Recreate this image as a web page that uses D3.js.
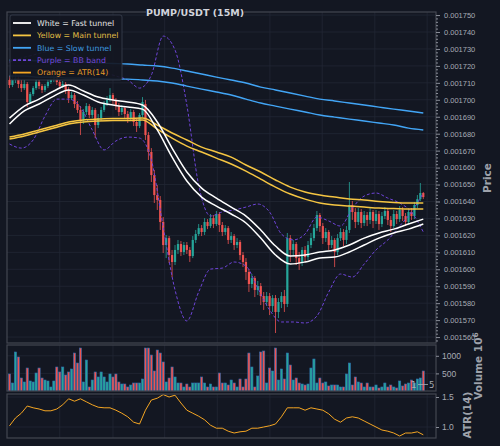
<!DOCTYPE html>
<html>
<head>
<meta charset="utf-8">
<script src="https://cdn.jsdelivr.net/npm/d3@7"></script>
<style>
  html, body { margin: 0; padding: 0; background: #131722; }
  svg { display: block; }
</style>
</head>
<body>
<div id="chart"></div>
<script>
// prices are in micro-USDT (1e-6)
const opens = [
  1711.7, 1708.7, 1711.7, 1712.8, 1709.3, 1706.9, 1709.3, 1698.7, 1703.4, 1706.9,
  1710.5, 1708.1, 1705.8, 1708.1, 1710.5, 1712.2, 1713.4, 1710.5, 1708.1, 1709.3,
  1705.8, 1701.0, 1702.8, 1697.5, 1694.0, 1688.1, 1692.8, 1696.3, 1691.0, 1694.0,
  1685.1, 1689.2, 1694.0, 1697.5, 1699.9, 1702.8, 1699.9, 1696.3, 1692.8, 1695.1,
  1691.6, 1689.2, 1692.8, 1686.9, 1684.5, 1691.0, 1697.5, 1679.2, 1669.2, 1655.6,
  1643.8, 1640.9, 1627.9, 1614.3, 1618.4, 1608.4, 1604.3, 1611.4, 1614.9, 1610.2,
  1614.3, 1611.4, 1607.8, 1617.3, 1620.8, 1624.3, 1622.0, 1627.9, 1625.5, 1630.2,
  1626.7, 1632.6, 1626.1, 1622.0, 1624.3, 1617.3, 1619.6, 1614.3, 1616.1, 1608.4,
  1604.3, 1598.4, 1591.3, 1594.8, 1587.8, 1590.1, 1584.2, 1580.7, 1584.2, 1578.3,
  1583.0, 1574.8, 1580.7, 1584.2, 1579.5, 1618.4, 1611.4, 1614.9, 1606.6, 1603.7,
  1611.4, 1607.2, 1614.3, 1618.4, 1624.3, 1632.0, 1625.5, 1618.4, 1622.0, 1614.3,
  1617.3, 1610.2, 1618.4, 1622.0, 1617.3, 1623.2, 1637.9, 1633.8, 1627.9, 1633.8,
  1627.3, 1632.0, 1629.1, 1633.8, 1628.5, 1632.6, 1626.7, 1631.4, 1634.4, 1629.1,
  1625.5, 1632.6, 1629.6, 1635.0, 1631.4, 1627.9, 1633.8, 1631.4, 1637.9, 1641.4,
  1645.0
];
const highs = [
  1714.0, 1714.6, 1716.4, 1714.0, 1711.7, 1711.7, 1710.5, 1704.6, 1708.1, 1712.2,
  1711.7, 1709.3, 1709.3, 1712.2, 1714.0, 1715.8, 1714.6, 1711.7, 1711.1, 1710.5,
  1707.5, 1704.6, 1704.0, 1699.3, 1696.3, 1694.5, 1698.1, 1697.5, 1695.7, 1695.1,
  1691.6, 1695.7, 1699.3, 1702.2, 1706.9, 1704.0, 1701.0, 1698.1, 1696.9, 1696.3,
  1693.4, 1694.5, 1694.0, 1689.2, 1692.2, 1701.6, 1699.9, 1681.0, 1671.5, 1658.6,
  1649.7, 1643.2, 1630.8, 1620.2, 1619.6, 1611.4, 1614.3, 1617.3, 1616.7, 1616.1,
  1616.1, 1613.1, 1619.6, 1623.2, 1626.7, 1626.1, 1630.2, 1629.6, 1632.6, 1632.0,
  1634.4, 1633.8, 1627.9, 1626.1, 1625.5, 1622.0, 1620.8, 1618.4, 1617.3, 1610.2,
  1606.6, 1600.1, 1597.2, 1596.0, 1593.1, 1591.9, 1586.6, 1586.6, 1586.0, 1584.8,
  1584.8, 1583.0, 1586.6, 1587.8, 1621.4, 1620.2, 1617.3, 1616.1, 1610.2, 1613.1,
  1613.7, 1616.7, 1621.4, 1626.7, 1634.4, 1633.2, 1627.3, 1624.3, 1623.2, 1619.6,
  1618.4, 1620.8, 1624.3, 1623.7, 1625.5, 1651.5, 1640.3, 1636.1, 1636.1, 1635.5,
  1634.4, 1633.8, 1636.1, 1635.0, 1635.0, 1634.4, 1633.8, 1636.7, 1636.1, 1631.4,
  1635.0, 1634.4, 1637.3, 1636.7, 1633.2, 1635.5, 1636.1, 1639.7, 1643.8, 1650.9,
  1645.6
];
const lows = [
  1706.9, 1707.5, 1709.9, 1706.9, 1704.6, 1705.8, 1695.7, 1697.5, 1702.2, 1705.8,
  1706.3, 1704.0, 1704.6, 1706.9, 1709.3, 1710.5, 1708.7, 1706.3, 1706.9, 1703.4,
  1698.1, 1699.9, 1695.1, 1692.2, 1679.2, 1685.7, 1691.0, 1689.2, 1689.2, 1677.4,
  1683.3, 1687.5, 1692.8, 1696.3, 1698.7, 1697.5, 1694.0, 1690.4, 1691.0, 1689.2,
  1686.3, 1688.1, 1684.5, 1681.0, 1683.3, 1689.8, 1676.3, 1664.5, 1651.5, 1639.1,
  1635.0, 1623.2, 1609.6, 1606.6, 1603.7, 1595.4, 1602.5, 1609.0, 1607.8, 1608.4,
  1609.0, 1604.3, 1606.6, 1615.5, 1619.6, 1619.6, 1620.2, 1623.7, 1624.3, 1624.3,
  1625.5, 1622.0, 1619.6, 1620.2, 1614.9, 1615.5, 1611.4, 1612.5, 1605.5, 1601.3,
  1593.7, 1586.6, 1588.9, 1583.6, 1584.8, 1578.9, 1576.0, 1578.3, 1573.0, 1574.8,
  1562.4, 1571.2, 1577.1, 1574.8, 1577.7, 1604.3, 1607.8, 1602.5, 1599.6, 1601.9,
  1604.3, 1605.5, 1612.5, 1616.7, 1622.6, 1622.0, 1614.9, 1616.1, 1611.4, 1612.5,
  1601.3, 1608.4, 1616.7, 1613.7, 1614.9, 1621.4, 1629.1, 1624.3, 1626.1, 1624.3,
  1625.5, 1625.5, 1626.7, 1624.3, 1626.7, 1623.2, 1624.9, 1629.6, 1626.1, 1622.0,
  1624.3, 1626.7, 1627.9, 1628.5, 1625.5, 1626.7, 1629.1, 1629.6, 1636.1, 1640.3,
  1641.4
];
const closes = [
  1708.7, 1711.7, 1712.8, 1709.3, 1706.9, 1709.3, 1698.7, 1703.4, 1706.9, 1710.5,
  1708.1, 1705.8, 1708.1, 1710.5, 1712.2, 1713.4, 1710.5, 1708.1, 1709.3, 1705.8,
  1701.0, 1702.8, 1697.5, 1694.0, 1688.1, 1692.8, 1696.3, 1691.0, 1694.0, 1685.1,
  1689.2, 1694.0, 1697.5, 1699.9, 1702.8, 1699.9, 1696.3, 1692.8, 1695.1, 1691.6,
  1689.2, 1692.8, 1686.9, 1684.5, 1691.0, 1698.7, 1679.2, 1669.2, 1655.6, 1643.8,
  1640.9, 1627.9, 1614.3, 1618.4, 1608.4, 1604.3, 1611.4, 1614.9, 1610.2, 1614.3,
  1611.4, 1607.8, 1617.3, 1620.8, 1624.3, 1622.0, 1627.9, 1625.5, 1630.2, 1626.7,
  1632.6, 1626.1, 1622.0, 1624.3, 1617.3, 1619.6, 1614.3, 1616.1, 1608.4, 1604.3,
  1598.4, 1591.3, 1594.8, 1587.8, 1590.1, 1584.2, 1580.7, 1584.2, 1578.3, 1583.0,
  1574.8, 1580.7, 1584.2, 1579.5, 1618.4, 1611.4, 1614.9, 1606.6, 1603.7, 1611.4,
  1607.2, 1614.3, 1618.4, 1624.3, 1632.0, 1625.5, 1618.4, 1622.0, 1614.3, 1617.3,
  1610.2, 1618.4, 1622.0, 1617.3, 1623.2, 1637.9, 1633.8, 1627.9, 1633.8, 1627.3,
  1632.0, 1629.1, 1633.8, 1628.5, 1632.6, 1626.7, 1631.4, 1634.4, 1629.1, 1625.5,
  1632.6, 1629.6, 1635.0, 1631.4, 1627.9, 1633.8, 1631.4, 1637.9, 1641.4, 1645.0,
  1642.6
];
const volumes = [
  483, 227, 1108, 966, 369, 256, 653, 284, 256, 511,
  653, 369, 312, 284, 114, 284, 682, 540, 682, 454,
  540, 625, 1079, 795, 1221, 256, 880, 114, 312, 540,
  398, 540, 398, 256, 483, 398, 483, 256, 199, 199,
  114, 170, 227, 227, 227, 341, 1221, 1221, 1022, 568,
  1164, 1079, 824, 256, 369, 682, 398, 227, 227, 114,
  199, 114, 227, 227, 227, 398, 227, 114, 199, 114,
  114, 511, 227, 227, 170, 312, 227, 114, 341, 114,
  341, 1079, 682, 114, 426, 1108, 1136, 227, 653, 568,
  1221, 312, 625, 341, 1079, 738, 312, 369, 227, 199,
  170, 199, 653, 909, 227, 369, 227, 256, 142, 170,
  170, 170, 114, 114, 483, 795, 170, 398, 256, 227,
  114, 227, 114, 114, 170, 85, 114, 227, 114, 170,
  114, 85, 284, 142, 199, 227, 312, 227, 341, 369,
  568
];

// tunnel lines, one value every 5 candles
const TUNNEL_STEP = 5;
const fastUpper = [1689.2, 1696.3, 1700.4, 1705.2, 1708.7, 1705.2, 1701.6, 1699.9, 1698.7, 1696.9,
  1686.9, 1671.5, 1657.4, 1647.9, 1642.0, 1636.7, 1631.4, 1623.2, 1613.7, 1607.8,
  1608.4, 1610.2, 1611.4, 1614.3, 1618.4, 1621.4, 1623.7, 1626.7, 1629.6];
const fastLower = [1685.7, 1693.4, 1697.5, 1702.2, 1705.8, 1702.8, 1698.7, 1696.9, 1695.7, 1694.5,
  1682.2, 1666.2, 1652.1, 1642.6, 1637.3, 1632.6, 1627.3, 1618.4, 1608.4, 1603.1,
  1604.3, 1606.6, 1607.2, 1610.2, 1614.3, 1618.4, 1621.4, 1623.7, 1626.7];
const mainUpper = [1678.0, 1679.8, 1682.2, 1684.5, 1686.9, 1688.1, 1688.6, 1688.9, 1688.9, 1689.2,
  1685.1, 1680.4, 1676.3, 1672.1, 1669.2, 1666.2, 1661.5, 1657.4, 1652.7, 1648.5,
  1645.6, 1643.8, 1642.6, 1641.4, 1640.9, 1640.0, 1639.4, 1639.1, 1639.1];
const mainLower = [1676.8, 1678.6, 1681.0, 1683.3, 1685.7, 1686.9, 1687.5, 1687.8, 1687.8, 1688.1,
  1682.7, 1677.4, 1672.7, 1669.2, 1665.6, 1662.1, 1657.9, 1653.2, 1648.5, 1644.4,
  1641.4, 1639.1, 1637.9, 1637.3, 1636.7, 1636.1, 1635.8, 1635.5, 1635.5];
const slowUpper = [1723.4, 1723.4, 1722.9, 1722.9, 1722.3, 1722.3, 1721.7, 1721.4, 1721.1, 1720.5,
  1719.9, 1718.7, 1717.0, 1715.2, 1713.4, 1711.7, 1709.9, 1707.5, 1705.8, 1704.0,
  1702.2, 1700.4, 1699.3, 1698.1, 1696.9, 1695.7, 1694.5, 1693.4, 1692.2];
const slowLower = [1714.0, 1714.0, 1713.4, 1713.4, 1712.8, 1712.8, 1712.5, 1712.2, 1712.2, 1711.7,
  1711.1, 1709.9, 1708.1, 1706.3, 1704.6, 1702.8, 1700.4, 1698.1, 1696.3, 1694.5,
  1692.8, 1691.0, 1689.8, 1688.6, 1687.5, 1686.3, 1685.1, 1683.3, 1682.2];

// bollinger band, one value every 4 candles
const BB_STEP = 4;
const bbUpper = [1722.3, 1724.6, 1726.4, 1728.2, 1729.4, 1728.2, 1725.2, 1720.5, 1716.4, 1714.0,
  1711.7, 1706.9, 1714.6, 1737.6, 1729.4, 1696.9, 1649.7, 1631.4, 1633.8, 1635.0,
  1636.7, 1638.5, 1633.8, 1620.8, 1617.3, 1620.8, 1630.8, 1628.5, 1625.5, 1636.1,
  1643.2, 1645.0, 1642.0, 1639.1, 1633.8, 1622.0];
const bbLower = [1673.9, 1671.5, 1676.3, 1690.4, 1700.4, 1700.4, 1695.7, 1682.2, 1670.4, 1675.7,
  1678.0, 1677.4, 1664.5, 1624.9, 1587.8, 1569.5, 1586.6, 1600.1, 1600.7, 1604.3,
  1601.9, 1588.9, 1576.0, 1568.9, 1568.9, 1568.3, 1572.4, 1586.6, 1597.2, 1595.4,
  1603.1, 1611.4, 1617.3, 1625.5, 1633.8, 1645.0];

// ATR(14), one value every 2 candles
const ATR_STEP = 2;
const atr14 = [1.02, 1.15, 1.23, 1.35, 1.32, 1.30, 1.27, 1.27, 1.30, 1.37,
  1.47, 1.43, 1.47, 1.42, 1.37, 1.33, 1.32, 1.32, 1.28, 1.23,
  1.17, 1.08, 1.05, 1.28, 1.45, 1.48, 1.54, 1.50, 1.53, 1.40,
  1.28, 1.23, 1.18, 1.12, 1.03, 0.98, 0.98, 0.93, 0.90, 0.92,
  0.93, 0.98, 0.98, 1.00, 1.02, 1.05, 1.17, 1.32, 1.32, 1.32,
  1.28, 1.32, 1.30, 1.28, 1.22, 1.13, 1.08, 1.15, 1.17, 1.15,
  1.10, 1.05, 1.00, 0.95, 0.93, 0.90, 0.85, 0.90, 0.90, 0.92,
  0.87];

const priceTicks = d3.range(1560, 1751, 10);
const priceMinor = d3.range(1558, 1752, 2).filter(v => v % 10 !== 0);
const volumeTicks = [500, 1000];
const atrTicks = [1.0, 1.5];
const timeGrid = [17, 35, 52.5, 70.3, 88.1, 105.8, 123.6, 141.3]; // candle index of x grid lines

const legendItems = [
  {label: 'White = Fast tunnel', color: '#ffffff', text: '#e6e6e6', dash: null},
  {label: 'Yellow = Main tunnel', color: '#f5c542', text: '#e3bf45', dash: null},
  {label: 'Blue = Slow tunnel', color: '#42a5f5', text: '#3f9be0', dash: null},
  {label: 'Purple = BB band', color: '#6e44d8', text: '#7048d8', dash: '3,2'},
  {label: 'Orange = ATR(14)', color: '#f5a623', text: '#e69a27', dash: null}
];

const W = 500, H = 446;
const BG = '#131722';
const UP = '#26a69a', DOWN = '#ef5350';
const FRAME = '#434651', GRID = '#222735', TXT = '#a8abb4';

const svg = d3.select('#chart').append('svg')
  .attr('width', W).attr('height', H)
  .style('font-family', "'DejaVu Sans', sans-serif");
svg.append('rect').attr('width', W).attr('height', H).attr('fill', BG);

const left = 7, right = 436;
const pp = {top: 12, bottom: 343};
const vp = {top: 345, bottom: 391};
const ap = {top: 394, bottom: 438};

const x = d3.scaleLinear().domain([-0.85, 144.3]).range([left, right]);
const y = d3.scaleLinear().domain([1556.5, 1751.8]).range([pp.bottom, pp.top]);
const yVol = d3.scaleLinear().domain([0, 1307]).range([vp.bottom, vp.top]);
const yAtr = d3.scaleLinear().domain([0.8167, 1.55]).range([ap.bottom, ap.top]);

const defs = svg.append('defs');
[['clipP', pp], ['clipV', vp], ['clipA', ap]].forEach(([id, p]) => {
  defs.append('clipPath').attr('id', id).append('rect')
    .attr('x', left).attr('y', p.top).attr('width', right - left).attr('height', p.bottom - p.top);
});

// grids
function grid(p, scale, ticks) {
  const g = svg.append('g').attr('stroke', GRID).attr('stroke-width', 0.8);
  g.selectAll('.v').data(timeGrid).enter().append('line')
    .attr('x1', d => x(d)).attr('x2', d => x(d))
    .attr('y1', p.top).attr('y2', p.bottom);
  g.selectAll('.h').data(ticks).enter().append('line')
    .attr('x1', left).attr('x2', right)
    .attr('y1', d => scale(d)).attr('y2', d => scale(d));
}
grid(pp, y, priceTicks);
grid(vp, yVol, volumeTicks);
grid(ap, yAtr, atrTicks);

// candles
const idx = d3.range(closes.length);
const candles = svg.append('g').attr('clip-path', 'url(#clipP)');
const cg = candles.selectAll('g').data(idx).enter().append('g')
  .attr('fill', i => closes[i] >= opens[i] ? UP : DOWN)
  .attr('stroke', i => closes[i] >= opens[i] ? UP : DOWN);
cg.append('line')
  .attr('x1', i => x(i)).attr('x2', i => x(i))
  .attr('y1', i => y(highs[i])).attr('y2', i => y(lows[i]))
  .attr('stroke-width', 0.8);
cg.append('rect')
  .attr('x', i => x(i) - 1.1)
  .attr('width', 2.2)
  .attr('y', i => y(Math.max(opens[i], closes[i])))
  .attr('height', i => Math.max(0.8, Math.abs(y(opens[i]) - y(closes[i]))))
  .attr('stroke', 'none');

// indicator lines
const pts = (arr, step) => arr.map((v, k) => [k * step, v]);
const line = d3.line().x(d => x(d[0])).y(d => y(d[1])).curve(d3.curveMonotoneX);
const lines = svg.append('g').attr('clip-path', 'url(#clipP)').attr('fill', 'none');
function draw(arr, step, color, width, dash) {
  lines.append('path').attr('d', line(pts(arr, step)))
    .attr('stroke', color).attr('stroke-width', width)
    .attr('stroke-dasharray', dash);
}
draw(bbUpper, BB_STEP, '#6e44d8', 1, '3,2');
draw(bbLower, BB_STEP, '#6e44d8', 1, '3,2');
draw(slowUpper, TUNNEL_STEP, '#42a5f5', 1.4);
draw(slowLower, TUNNEL_STEP, '#42a5f5', 1.4);
draw(mainUpper, TUNNEL_STEP, '#f5c542', 1.5);
draw(mainLower, TUNNEL_STEP, '#f5c542', 1.5);
draw(fastUpper, TUNNEL_STEP, '#ffffff', 1.5);
draw(fastLower, TUNNEL_STEP, '#ffffff', 1.5);

// volume
svg.append('g').attr('clip-path', 'url(#clipV)')
  .selectAll('rect').data(idx).enter().append('rect')
  .attr('x', i => x(i) - 1.1)
  .attr('width', 2.2)
  .attr('y', i => yVol(volumes[i]))
  .attr('height', i => vp.bottom - yVol(volumes[i]))
  .attr('fill', i => closes[i] >= opens[i] ? UP : DOWN)
  .attr('stroke', '#2f6db0').attr('stroke-width', 0.6);

// ATR
svg.append('g').attr('clip-path', 'url(#clipA)').append('path')
  .attr('d', d3.line().x(d => x(d[0])).y(d => yAtr(d[1]))(pts(atr14, ATR_STEP)))
  .attr('fill', 'none').attr('stroke', '#f5a623').attr('stroke-width', 1);

// frames
[pp, vp, ap].forEach(p => {
  svg.append('rect').attr('x', left).attr('y', p.top)
    .attr('width', right - left).attr('height', p.bottom - p.top)
    .attr('fill', 'none').attr('stroke', FRAME).attr('stroke-width', 1.2);
});

// axes
function styleAxis(g, size) {
  g.select('.domain').remove();
  g.selectAll('line').attr('stroke', '#8a8e99');
  g.selectAll('text').attr('fill', TXT).style('font-size', size + 'px');
}
svg.append('g').attr('transform', `translate(${right},0)`)
  .call(d3.axisRight(y).tickValues(priceMinor).tickSize(2).tickFormat(''))
  .call(g => styleAxis(g, 7.5));
svg.append('g').attr('transform', `translate(${right},0)`)
  .call(d3.axisRight(y).tickValues(priceTicks).tickSize(4).tickPadding(4)
    .tickFormat(v => d3.format('.6f')(v / 1e6)))
  .call(g => styleAxis(g, 7.5));
svg.append('g').attr('transform', `translate(${right},0)`)
  .call(d3.axisRight(yVol).tickValues(volumeTicks).tickSize(3).tickPadding(3)
    .tickFormat(d3.format('d')))
  .call(g => styleAxis(g, 8.5));
svg.append('g').attr('transform', `translate(${right},0)`)
  .call(d3.axisRight(yAtr).tickValues(atrTicks).tickSize(3).tickPadding(3)
    .tickFormat(d3.format('.1f')))
  .call(g => styleAxis(g, 8.5));

// stray offset text over the volume panel
svg.append('text').attr('x', 411).attr('y', 388).attr('fill', TXT)
  .style('font-size', '8.5px').text('1');
svg.append('line').attr('x1', 418).attr('x2', 428).attr('y1', 384.5).attr('y2', 384.5)
  .attr('stroke', TXT).attr('stroke-width', 0.8);
svg.append('text').attr('x', 429).attr('y', 388).attr('fill', TXT)
  .style('font-size', '8.5px').text('5');

// axis labels
function vlabel(cx, cy, txt) {
  return svg.append('text')
    .attr('transform', `translate(${cx},${cy}) rotate(-90)`)
    .attr('text-anchor', 'middle').attr('dy', '0.35em')
    .attr('fill', '#9ea2ab').style('font-size', '10.5px').style('font-weight', 'bold')
    .text(txt);
}
vlabel(487, 178, 'Price');
vlabel(467, 415, 'ATR(14)');
const vl = vlabel(478, 366, 'Volume 10');
vl.append('tspan').attr('baseline-shift', 'super').style('font-size', '7.5px').text('6');

// title
svg.append('rect').attr('x', 146).attr('y', 5).attr('width', 98).attr('height', 13).attr('fill', BG);
svg.append('text').attr('x', 195).attr('y', 15.5).attr('text-anchor', 'middle')
  .attr('fill', '#d1d4dc').style('font-size', '9.5px').style('font-weight', 'bold')
  .text('PUMP/USDT (15M)');

// legend
const lg = svg.append('g').attr('transform', 'translate(10,15)');
lg.append('rect').attr('width', 112).attr('height', 65).attr('rx', 2)
  .attr('fill', BG).attr('fill-opacity', 0.92)
  .attr('stroke', '#3b4150').attr('stroke-width', 0.8);
const li = lg.selectAll('g.item').data(legendItems).enter().append('g')
  .attr('transform', (d, i) => `translate(0,${8 + i * 12.4})`);
li.append('line').attr('x1', 3).attr('x2', 21).attr('y1', 0).attr('y2', 0)
  .attr('stroke', d => d.color).attr('stroke-width', 1.8)
  .attr('stroke-dasharray', d => d.dash);
li.append('text').attr('x', 27).attr('dy', '0.35em')
  .attr('fill', d => d.text).style('font-size', '7.8px')
  .text(d => d.label);
</script>
</body>
</html>
